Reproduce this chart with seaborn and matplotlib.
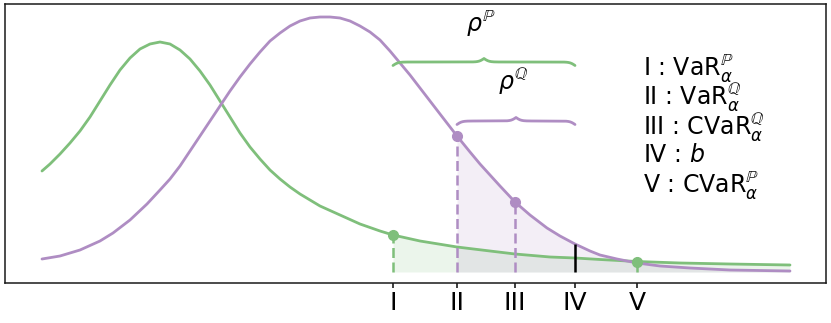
import numpy as np
import matplotlib
matplotlib.use("Agg")
import matplotlib.pyplot as plt
import seaborn as sns

# densities (x position, height)
x_p = [0.42, 0.50, 0.60, 0.70, 0.80, 0.90, 1.00, 1.10, 1.20, 1.30, 1.40, 1.50,
       1.60, 1.70, 1.80, 1.90, 2.00, 2.10, 2.20, 2.30, 2.40, 2.50, 2.60, 2.70,
       2.80, 2.90, 3.00, 3.20, 3.40, 3.60, 3.80, 3.93, 4.20, 4.57, 4.90, 5.15,
       5.50, 5.75, 6.00, 6.37, 6.80, 7.30, 7.90]
dens_p = [1.01, 1.08, 1.18, 1.29, 1.41, 1.55, 1.71, 1.87, 2.02, 2.14, 2.23, 2.28,
          2.30, 2.28, 2.22, 2.13, 2.01, 1.87, 1.71, 1.55, 1.39, 1.25, 1.13, 1.02,
          0.93, 0.85, 0.78, 0.66, 0.57, 0.48, 0.41, 0.37, 0.31, 0.25, 0.21, 0.18,
          0.15, 0.14, 0.125, 0.105, 0.09, 0.08, 0.07]

x_q = [0.42, 0.60, 0.80, 1.00, 1.13, 1.30, 1.47, 1.60, 1.70, 1.80, 1.90, 2.00,
       2.10, 2.20, 2.30, 2.40, 2.50, 2.60, 2.70, 2.80, 2.90, 3.00, 3.10, 3.20,
       3.30, 3.40, 3.50, 3.60, 3.70, 3.80, 3.90, 4.00, 4.10, 4.20, 4.30, 4.40,
       4.57, 4.70, 4.80, 4.90, 5.00, 5.15, 5.30, 5.47, 5.60, 5.75, 5.90, 6.00,
       6.17, 6.37, 6.60, 6.90, 7.30, 7.90]
dens_q = [0.13, 0.16, 0.22, 0.31, 0.39, 0.52, 0.68, 0.82, 0.93, 1.06, 1.21, 1.36,
          1.51, 1.66, 1.81, 1.95, 2.08, 2.20, 2.31, 2.39, 2.46, 2.51, 2.54, 2.55,
          2.55, 2.54, 2.51, 2.46, 2.40, 2.32, 2.21, 2.09, 1.97, 1.84, 1.71, 1.58,
          1.36, 1.20, 1.08, 0.97, 0.86, 0.70, 0.57, 0.44, 0.36, 0.28, 0.21, 0.17,
          0.13, 0.09, 0.06, 0.04, 0.02, 0.01]

tick_x = [3.93, 4.57, 5.15, 5.75, 6.37]
tick_labels = ["I", "II", "III", "IV", "V"]

legend_lines = [r"I : $\mathrm{VaR}_{\alpha}^{\mathbb{P}}$",
                r"II : $\mathrm{VaR}_{\alpha}^{\mathbb{Q}}$",
                r"III : $\mathrm{CVaR}_{\alpha}^{\mathbb{Q}}$",
                r"IV : $b$",
                r"V : $\mathrm{CVaR}_{\alpha}^{\mathbb{P}}$"]
legend_y = [2.04, 1.74, 1.44, 1.17, 0.87]

green = "#7fbf7b"
purple = "#af8dc3"

sns.set_theme(style="ticks", rc={"xtick.major.size": 3.5, "xtick.major.pad": 2,
                                 "axes.edgecolor": ".1", "axes.linewidth": 1.1,
                                 "text.color": "black", "xtick.labelcolor": "black"})

x_p = np.array(x_p); dens_p = np.array(dens_p)
x_q = np.array(x_q); dens_q = np.array(dens_q)


def val(xs, ys, x0):
    return ys[np.argmin(np.abs(xs - x0))]


def brace(ax, x0, x1, y, color, amp=0.07, beta=40):
    xs = np.linspace(x0, x1, 201)
    half = xs[:101]
    h = 1 / (1 + np.exp(-beta * (half - half[0]))) + 1 / (1 + np.exp(-beta * (half - half[-1])))
    yy = np.concatenate([h, h[-2::-1]])
    ax.plot(xs, y + amp * (yy - 1), color=color, lw=2)


fig = plt.figure(figsize=(8.31, 3.23), dpi=100)
ax = fig.add_axes([5 / 831, 40 / 323, 821 / 831, 279 / 323])

sns.lineplot(x=x_p, y=dens_p, color=green, lw=2, ax=ax)
sns.lineplot(x=x_q, y=dens_q, color=purple, lw=2, ax=ax)

# tail shading
m = x_p >= tick_x[0]
ax.fill_between(x_p[m], 0, dens_p[m], color=green, alpha=0.15, lw=0)
m = x_q >= tick_x[1]
ax.fill_between(x_q[m], 0, dens_q[m], color=purple, alpha=0.15, lw=0)

# quantile / cvar markers
for i, (xs, ys, c) in zip([0, 1, 2, 4], [(x_p, dens_p, green), (x_q, dens_q, purple),
                                        (x_q, dens_q, purple), (x_p, dens_p, green)]):
    h = val(xs, ys, tick_x[i])
    ax.plot([tick_x[i], tick_x[i]], [0, h], color=c, ls="--", dashes=(4, 1.8), lw=1.8)
    ax.plot(tick_x[i], h, "o", color=c, ms=7)

ax.vlines(tick_x[3], 0, val(x_q, dens_q, tick_x[3]), color="black", lw=1.8)

brace(ax, tick_x[0], tick_x[3], 2.10, green)
brace(ax, tick_x[1], tick_x[3], 1.51, purple)
ax.text((tick_x[0] + tick_x[3]) / 2 - 0.03, 2.49, r"$\rho^{\mathbb{P}}$", fontsize=17,
        ha="center", va="center")
ax.text((tick_x[1] + tick_x[3]) / 2 - 0.03, 1.90, r"$\rho^{\mathbb{Q}}$", fontsize=17,
        ha="center", va="center")

for txt, y in zip(legend_lines, legend_y):
    ax.text(6.43, y, txt, fontsize=17, ha="left", va="center")

ax.set_xlim(0.05, 8.26)
ax.set_ylim(-0.11, 2.68)
ax.set_yticks([])
ax.set_xticks(tick_x, tick_labels, fontsize=18)
ax.set_xlabel("")
ax.set_ylabel("")

plt.savefig("out.png", dpi=100)
